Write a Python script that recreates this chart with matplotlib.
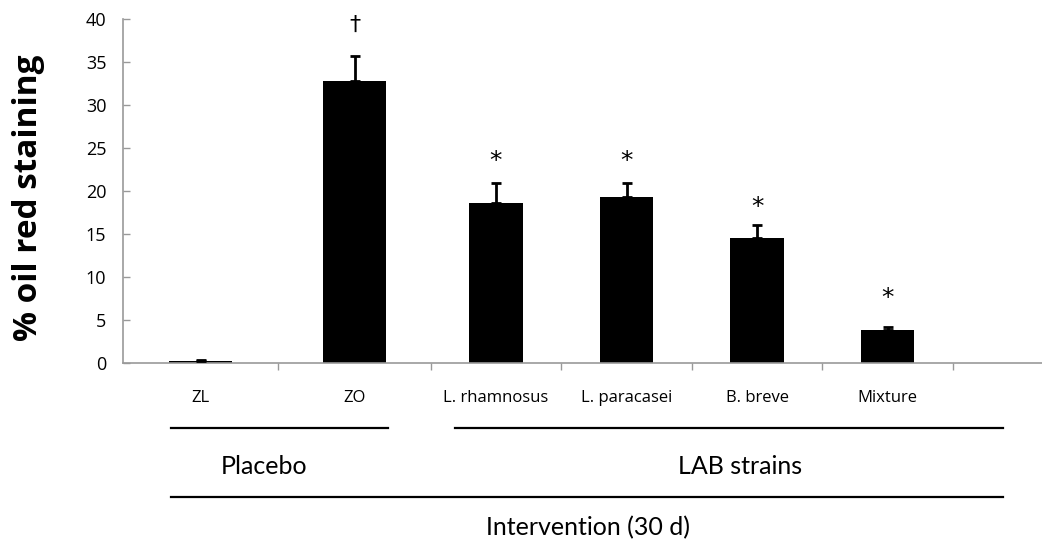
import matplotlib
matplotlib.use("Agg")
import matplotlib.pyplot as plt
import numpy as np

# ---- data ----
categories = ["ZL", "ZO", "L. rhamnosus", "L. paracasei", "B. breve", "Mixture"]
values = [0.3, 32.8, 18.6, 19.3, 14.5, 3.9]
errors = [0.05, 2.9, 2.3, 1.6, 1.6, 0.35]
marks = ["", "\u2020", "*", "*", "*", "*"]
mark_y = [None, 39.3, 23.5, 23.5, 18.2, 7.6]
group_labels = ["Placebo", "LAB strains"]
outer_label = "Intervention (30 d)"
yticks = [0, 5, 10, 15, 20, 25, 30, 35, 40]

# ---- layout ----
W, H = 1042, 550
fig = plt.figure(figsize=(W / 100, H / 100), dpi=100)
ax_left, ax_right, ax_top, ax_bottom = 123, 1042, 19, 363.3
ax = fig.add_axes([ax_left / W, (H - ax_bottom) / H,
                   (ax_right - ax_left) / W, (ax_bottom - ax_top) / H])

# category boundaries (non-uniform, as in reference), in pixel units
edges = [123, 278, 431, 561, 692, 822, 953]
centers = [(edges[i] + edges[i + 1]) / 2 for i in range(len(categories))]
widths = [0.41 * (edges[i + 1] - edges[i]) for i in range(len(categories))]

ax.bar(centers, values, width=widths, color="black", zorder=2)
ax.errorbar(centers, values, yerr=[np.zeros(len(errors)), errors], fmt="none",
            ecolor="black", elinewidth=2, capsize=3.5, capthick=2, zorder=3)

for c, m, my in zip(centers, marks, mark_y):
    if m == "*":
        ax.text(c, my, m, ha="center", va="center", fontsize=18,
                family="DejaVu Sans", color="black")
    elif m:
        ax.text(c, my, m, ha="center", va="center", fontsize=16,
                family="DejaVu Sans", color="black")

ax.set_xlim(ax_left, ax_right)
ax.set_ylim(0, 40)
ax.set_yticks(yticks)
ax.set_yticklabels([str(t) for t in yticks], family="Open Sans", fontsize=13)
ax.set_xticks(edges[1:])
ax.set_xticklabels([])
ax.tick_params(axis="y", direction="in", length=5, color="#999999", width=1, pad=12)
ax.tick_params(axis="x", direction="out", length=5, color="#999999", width=1)
for s in ["top", "right"]:
    ax.spines[s].set_visible(False)
for s in ["left", "bottom"]:
    ax.spines[s].set_color("#999999")
    ax.spines[s].set_linewidth(1.2)

# ---- overlay for labels and grouping annotations (pixel coordinates) ----
ov = fig.add_axes([0, 0, 1, 1], facecolor="none")
ov.set_xlim(0, W)
ov.set_ylim(H, 0)
ov.axis("off")

ov.text(29, 198, "% oil red staining", rotation=90, ha="center", va="center",
        family="Open Sans", fontweight="bold", fontsize=24)

for c, lab in zip(centers, categories):
    ov.text(c, 398, lab, ha="center", va="center", family="Open Sans", fontsize=12)

ov.plot([171, 388], [428, 428], color="black", lw=1.6)
ov.plot([455, 1003], [428, 428], color="black", lw=1.6)
ov.plot([171, 1003], [497, 497], color="black", lw=1.6)
ov.text(264, 466, group_labels[0], ha="center", va="center", family="Lato", fontsize=18)
ov.text(740, 466, group_labels[1], ha="center", va="center", family="Lato", fontsize=18)
ov.text(588, 528, outer_label, ha="center", va="center", family="Lato", fontsize=18)

fig.savefig("out.png", dpi=100, facecolor="white")
